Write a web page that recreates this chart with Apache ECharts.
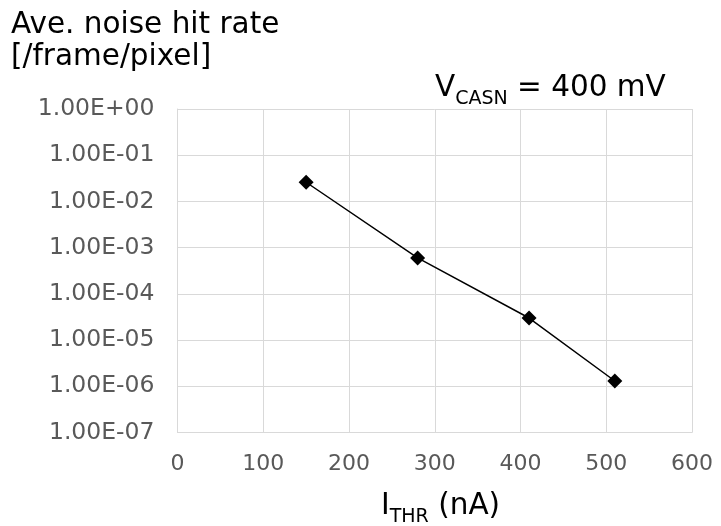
<!DOCTYPE html>
<html>
<head>
<meta charset="utf-8">
<script src="https://cdn.jsdelivr.net/npm/echarts@6/dist/echarts.min.js"></script>
<style>
html,body{margin:0;padding:0;background:#fff;}
#chart{width:721px;height:526px;}
</style>
</head>
<body>
<div id="chart"></div>
<script>
// ---- data ----
const thresholdCurrent = [150, 280, 410, 510];          // I_THR (nA)
const noiseHitRate = [2.6e-2, 6.0e-4, 3.0e-5, 1.3e-6];  // /frame/pixel
const xTicks = [0, 100, 200, 300, 400, 500, 600];
const yTickLabels = ['1.00E-07', '1.00E-06', '1.00E-05', '1.00E-04', '1.00E-03', '1.00E-02', '1.00E-01', '1.00E+00'];
const yMinExp = -7;

const FONT = 'DejaVu Sans';
const chart = echarts.init(document.getElementById('chart'), null, {renderer: 'canvas'});

const seriesData = thresholdCurrent.map((x, i) => [x, noiseHitRate[i]]);

const subRich = {
  m: {fontFamily: FONT, fontSize: 29.5, lineHeight: 36, verticalAlign: 'top', fill: '#000'},
  s: {fontFamily: FONT, fontSize: 19, lineHeight: 36, verticalAlign: 'bottom', fill: '#000'}
};

chart.setOption({
  backgroundColor: '#ffffff',
  animation: false,
  grid: {left: 177.5, right: 29, top: 109, bottom: 93.5, containLabel: false},
  xAxis: {
    type: 'value',
    min: xTicks[0],
    max: xTicks[xTicks.length - 1],
    interval: xTicks[1] - xTicks[0],
    axisLine: {show: true, lineStyle: {color: '#d9d9d9', width: 1}},
    axisTick: {show: false},
    splitLine: {show: true, lineStyle: {color: '#d9d9d9', width: 1}},
    axisLabel: {color: '#595959', fontFamily: FONT, fontSize: 22, margin: 21}
  },
  yAxis: {
    type: 'log',
    logBase: 10,
    min: Math.pow(10, yMinExp),
    max: 1,
    splitNumber: 7,
    axisLine: {show: true, lineStyle: {color: '#d9d9d9', width: 1}},
    axisTick: {show: false},
    splitLine: {show: true, lineStyle: {color: '#d9d9d9', width: 1}},
    axisLabel: {
      color: '#595959', fontFamily: FONT, fontSize: 23.5, margin: 23,
      formatter: function (v) {
        const idx = Math.round(Math.log10(v)) - yMinExp;
        return yTickLabels[idx] !== undefined ? yTickLabels[idx] : '';
      }
    }
  },
  series: [{
    type: 'line',
    data: seriesData,
    symbol: 'diamond',
    symbolSize: 15,
    itemStyle: {color: '#000000'},
    lineStyle: {color: '#000000', width: 1.5},
    z: 5
  }],
  graphic: [
    {
      type: 'text', left: 11, top: 9,
      style: {
        text: 'Ave. noise hit rate\n[/frame/pixel]',
        font: '29.5px "DejaVu Sans"', fill: '#000000', lineHeight: 32
      }
    },
    {
      type: 'text', left: 435, top: 73,
      style: {text: '{m|V}{s|CASN}{m| = 400 mV}', fill: '#000000', rich: subRich}
    },
    {
      type: 'text', left: 381, top: 491,
      style: {text: '{m|I}{s|THR}{m| (nA)}', fill: '#000000', rich: subRich}
    }
  ]
});
</script>
</body>
</html>
